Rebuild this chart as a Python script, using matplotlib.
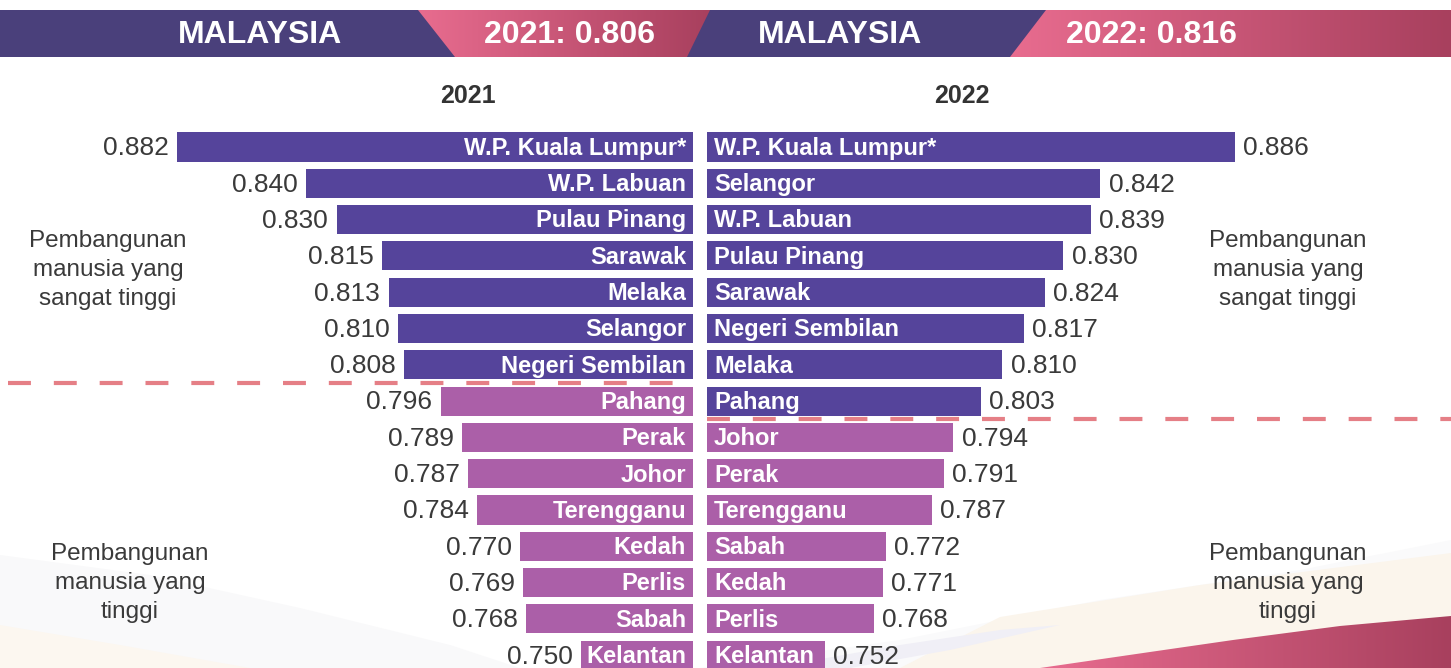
import numpy as np
import matplotlib.pyplot as plt
from matplotlib.patches import Polygon
from matplotlib.colors import LinearSegmentedColormap

# Data: Human Development Index by state
regions_2021 = ["W.P. Kuala Lumpur*", "W.P. Labuan", "Pulau Pinang", "Sarawak", "Melaka",
                "Selangor", "Negeri Sembilan", "Pahang", "Perak", "Johor", "Terengganu",
                "Kedah", "Perlis", "Sabah", "Kelantan"]
hdi_2021 = [0.882, 0.840, 0.830, 0.815, 0.813, 0.810, 0.808, 0.796, 0.789, 0.787,
            0.784, 0.770, 0.769, 0.768, 0.750]

regions_2022 = ["W.P. Kuala Lumpur*", "Selangor", "W.P. Labuan", "Pulau Pinang", "Sarawak",
                "Negeri Sembilan", "Melaka", "Pahang", "Johor", "Perak", "Terengganu",
                "Sabah", "Kedah", "Perlis", "Kelantan"]
hdi_2022 = [0.886, 0.842, 0.839, 0.830, 0.824, 0.817, 0.810, 0.803, 0.794, 0.791,
            0.787, 0.772, 0.771, 0.768, 0.752]

national = {"2021": 0.806, "2022": 0.816}
very_high_cut = 0.800

W, H = 1451, 668
DARK = "#55449B"
LIGHT = "#AB5FA8"
TXT = "#3a3a3a"
FONT = "Liberation Sans"

fig = plt.figure(figsize=(W / 100, H / 100), dpi=100)

# background axes in pixel coordinates
bg = fig.add_axes([0, 0, 1, 1])
bg.set_xlim(0, W)
bg.set_ylim(H, 0)
bg.axis("off")

pink_cmap = LinearSegmentedColormap.from_list("pk", ["#E86C8F", "#A8405E"])


def gradient_poly(pts, x0, x1, y0, y1, cmap, z):
    poly = Polygon(pts, closed=True, facecolor="none", edgecolor="none",
                   transform=bg.transData, zorder=z)
    bg.add_patch(poly)
    grad = np.linspace(0, 1, 256).reshape(1, -1)
    im = bg.imshow(grad, extent=[x0, x1, y1, y0], cmap=cmap, aspect="auto", zorder=z)
    im.set_clip_path(poly)


# decorative background waves
bg.add_patch(Polygon([(0, 555), (150, 575), (300, 608), (450, 645), (520, 668), (0, 668)],
                     facecolor="#F9F9FA", edgecolor="none", zorder=0))
bg.add_patch(Polygon([(0, 625), (120, 645), (250, 668), (0, 668)],
                     facecolor="#FCF7F0", edgecolor="none", zorder=0))
bg.add_patch(Polygon([(700, 668), (900, 640), (1100, 600), (1300, 570), (1451, 540), (1451, 668)],
                     facecolor="#FAFAFB", edgecolor="none", zorder=0))
bg.add_patch(Polygon([(900, 668), (1000, 617), (1200, 585), (1451, 553), (1451, 668)],
                     facecolor="#FBF5EC", edgecolor="none", zorder=0))
bg.add_patch(Polygon([(770, 668), (900, 645), (1000, 630), (1060, 625), (950, 650), (850, 668)],
                     facecolor="#F0EFF6", edgecolor="none", zorder=0))
gradient_poly([(1040, 668), (1150, 652), (1233, 640), (1340, 626), (1451, 616), (1451, 668)],
              1040, 1451, 612, 668, pink_cmap, 0.5)

# header band
bg.add_patch(Polygon([(0, 10), (W, 10), (W, 57), (0, 57)], facecolor="#4A407B",
                     edgecolor="none", zorder=1))
gradient_poly([(418, 10), (710, 10), (687, 57), (455, 57)], 418, 710, 10, 57, pink_cmap, 2)
gradient_poly([(1046, 10), (W, 10), (W, 57), (1010, 57)], 1010, W, 10, 57, pink_cmap, 2)

hdr = dict(color="white", fontsize=23, fontweight="bold", family=FONT,
           ha="center", va="center", zorder=3)
bg.text(260, 35, "MALAYSIA", **hdr)
bg.text(570, 35, f"2021: {national['2021']:.3f}", **hdr)
bg.text(840, 35, "MALAYSIA", **hdr)
bg.text(1151, 35, f"2022: {national['2022']:.3f}", **hdr)

sub = dict(color="#333333", fontsize=18, fontweight="bold", family=FONT,
           ha="center", va="center", zorder=3)
bg.text(468, 96, "2021", **sub)
bg.text(962, 96, "2022", **sub)

side = dict(color=TXT, fontsize=17.5, family=FONT, ha="center", va="center",
            linespacing=1.4, zorder=3)
bg.text(108, 270, "Pembangunan\nmanusia yang\nsangat tinggi", **side)
bg.text(1288, 270, "Pembangunan\nmanusia yang\nsangat tinggi", **side)
bg.text(130, 583, "Pembangunan\nmanusia yang\ntinggi", **side)
bg.text(1288, 583, "Pembangunan\nmanusia yang\ntinggi", **side)

# bar axes geometry (pixels)
px_per_unit = 3060.0
base = 0.7135
row0, row_step = 147.0, 36.3
n = len(hdi_2021)
top_px = row0 - row_step / 2
bot_px = row0 + row_step * (n - 0.5)
ax_bottom = 1 - bot_px / H
ax_height = (bot_px - top_px) / H

left_w, right_x0 = 693, 707
axL = fig.add_axes([0, ax_bottom, left_w / W, ax_height])
axR = fig.add_axes([right_x0 / W, ax_bottom, (W - right_x0) / W, ax_height])
axL.set_xlim(base + left_w / px_per_unit, base)
axR.set_xlim(base, base + (W - right_x0) / px_per_unit)

rows = np.arange(n)
for ax, names, vals, side_sign, cut_row, dash_start in [
        (axL, regions_2021, hdi_2021, -1, 6.5, 8 / left_w),
        (axR, regions_2022, hdi_2022, 1, 7.5, 0.0)]:
    ax.set_ylim(n - 0.5, -0.5)
    ax.patch.set_alpha(0)
    ax.axis("off")
    colors = [DARK if v >= very_high_cut else LIGHT for v in vals]
    ax.barh(rows, vals, height=0.8, color=colors, zorder=2)
    for r, name, v in zip(rows, names, vals):
        ax.annotate(name, (base, r), xytext=(side_sign * 5, -1), textcoords="offset points",
                    ha="right" if side_sign < 0 else "left", va="center",
                    color="white", fontsize=17, fontweight="bold", family=FONT, zorder=3)
        ax.annotate(f"{v:.3f}", (v, r), xytext=(side_sign * 6, -1), textcoords="offset points",
                    ha="right" if side_sign < 0 else "left", va="center",
                    color=TXT, fontsize=19, family=FONT, zorder=3)
    ax.axhline(cut_row, xmin=dash_start, xmax=1, color="#E57F86", lw=3,
               dashes=(5.5, 5.5), zorder=1.5)

fig.savefig("out.png", dpi=100)
